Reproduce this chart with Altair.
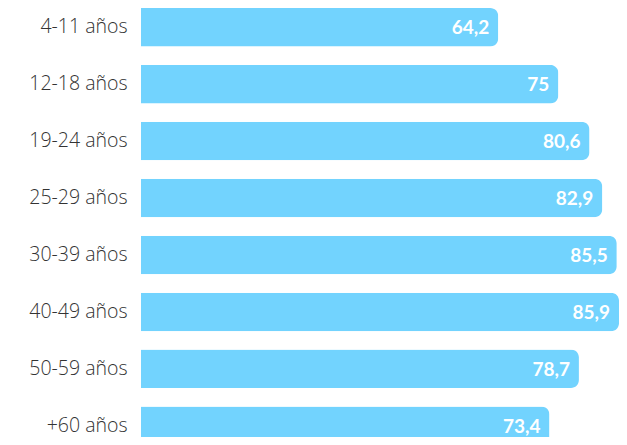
import altair as alt
import pandas as pd

categories = ["4-11 años", "12-18 años", "19-24 años", "25-29 años",
              "30-39 años", "40-49 años", "50-59 años", "+60 años"]
values = [64.2, 75, 80.6, 82.9, 85.5, 85.9, 78.7, 73.4]
value_labels = ["64,2", "75", "80,6", "82,9", "85,5", "85,9", "78,7", "73,4"]

df = pd.DataFrame({"cat": categories, "val": values, "lab": value_labels})

BAR = "#72d3fe"

y = alt.Y("cat:N", sort=categories, title=None,
          scale=alt.Scale(paddingInner=0.324, paddingOuter=0, range=[0, 437]),
          axis=alt.Axis(domain=False, ticks=False, grid=False, labelPadding=14,
                        labelFontSize=19.5, labelFont="Open Sans", labelColor="#333333",
                        labelFontWeight=300, labelLimit=200))
x = alt.X("val:Q", title=None,
          scale=alt.Scale(domain=[0, 85.9], nice=False, zero=True),
          axis=None)

bars = alt.Chart(df).mark_bar(color=BAR, cornerRadiusEnd=8).encode(x=x, y=y)
text = alt.Chart(df).mark_text(align="right", baseline="middle", dx=-9, dy=1,
                               color="white", font="Lato", fontWeight="bold",
                               fontSize=19).encode(x=x, y=y, text="lab:N")

chart = (bars + text).properties(
    width=478, height=429,
    autosize=alt.AutoSizeParams(type="none"),
    padding={"left": 133, "right": 0, "top": 0, "bottom": 0},
).configure_view(stroke=None)

chart.save("out.html", embed_options={"renderer": "svg", "actions": False})
